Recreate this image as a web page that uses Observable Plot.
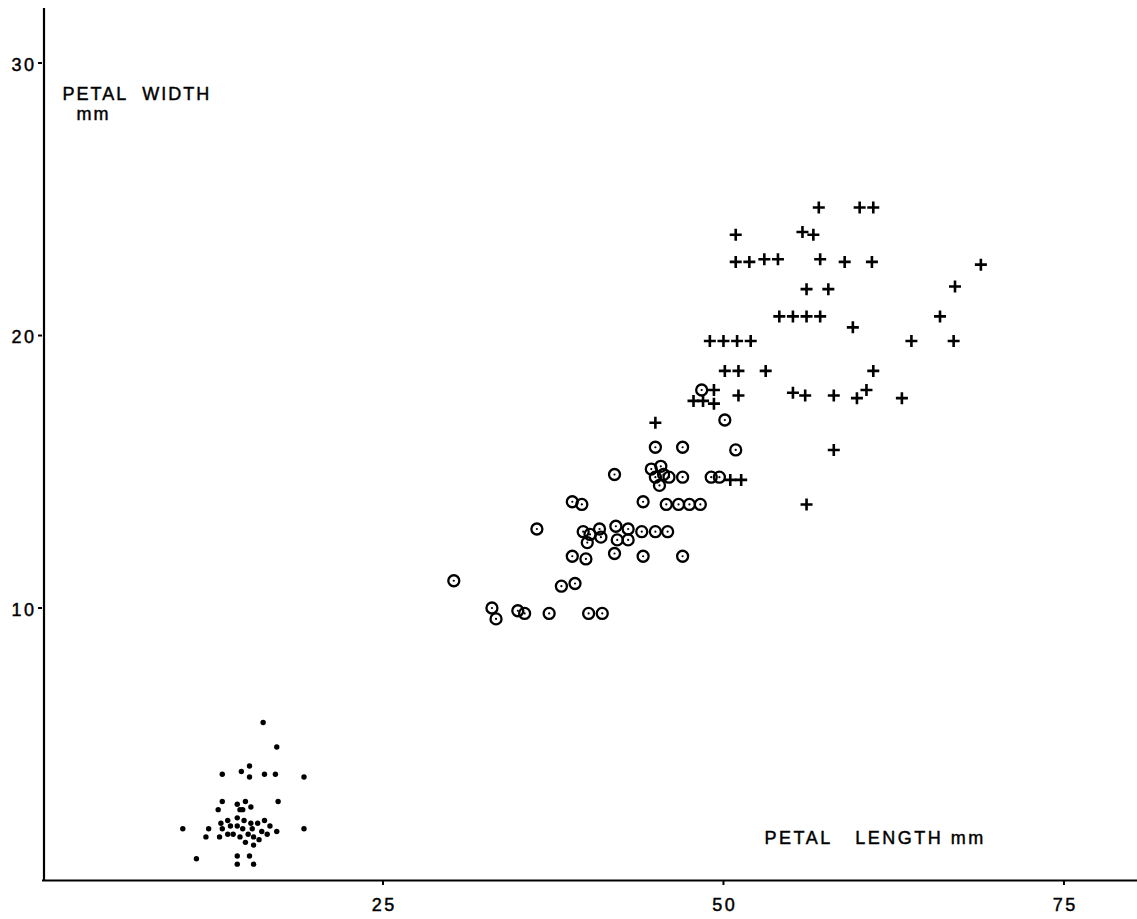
<!DOCTYPE html>
<html>
<head>
<meta charset="utf-8">
<script src="https://cdn.jsdelivr.net/npm/d3@7"></script>
<script src="https://cdn.jsdelivr.net/npm/@observablehq/plot@0.6"></script>
<style>
  html, body { margin: 0; padding: 0; background: #fff; }
  #chart svg { display: block; }
</style>
</head>
<body>
<div id="chart"></div>
<script>
// Iris petal measurements (mm), one pair of arrays per species.
const setosaLength = [
  16.2, 17.2, 15.2, 14.6, 13.2, 15.2, 16.3, 17.1, 19.2, 13.2,
  14.3, 14.9, 17.3, 12.9, 14.5, 14.7, 15.3, 10.3, 12.2, 13.1,
  13.6, 14.3, 14.8, 16.3, 13.2, 13.8, 14.3, 15.3, 15.8, 16.7,
  15.4, 16.1, 17.2, 19.2, 12.0, 13.0, 13.6, 14.0, 14.5, 14.7,
  15.1, 15.5, 15.9, 16.5, 14.9, 15.5, 11.3, 14.3, 15.2, 14.3,
  15.5
];
const setosaWidth = [
  5.8, 4.9, 4.2, 4.0, 3.9, 3.8, 3.9, 3.9, 3.8, 2.9,
  2.8, 2.9, 2.9, 2.6, 2.6, 2.6, 2.7, 1.9, 1.9, 2.1,
  2.2, 2.3, 2.2, 2.2, 1.9, 2.0, 2.0, 2.1, 2.1, 2.0,
  1.9, 1.8, 1.8, 1.9, 1.6, 1.6, 1.7, 1.7, 1.6, 1.9,
  1.7, 1.6, 1.5, 1.7, 1.4, 1.3, 0.8, 0.9, 0.9, 0.6,
  0.6
];

const versicolorLength = [
  30.2, 33.0, 33.3, 34.9, 35.4, 37.2, 40.1, 41.1, 38.1, 39.1,
  36.3, 48.4, 50.1, 45.0, 47.0, 50.9, 42.0, 44.7, 45.4, 45.0,
  45.6, 46.0, 45.3, 47.0, 49.1, 49.7, 44.1, 45.8, 46.7, 47.5,
  48.3, 38.9, 39.6, 39.7, 40.2, 40.9, 41.0, 42.1, 42.2, 43.0,
  43.0, 44.0, 45.0, 45.9, 40.0, 38.9, 39.9, 42.0, 44.1, 47.0
];
const versicolorWidth = [
  11.0, 10.0, 9.6, 9.9, 9.8, 9.8, 9.8, 9.8, 10.8, 10.9,
  12.9, 18.0, 16.9, 15.9, 15.9, 15.8, 14.9, 15.1, 15.2, 14.8,
  14.9, 14.8, 14.5, 14.8, 14.8, 14.8, 13.9, 13.8, 13.8, 13.8,
  13.8, 13.9, 13.8, 12.8, 12.7, 12.9, 12.6, 13.0, 12.5, 12.9,
  12.5, 12.8, 12.8, 12.8, 12.4, 11.9, 11.8, 12.0, 11.9, 11.9
];

const virginicaLength = [
  57.0, 60.0, 61.0, 50.9, 55.8, 56.6, 50.9, 51.9, 53.0, 54.0,
  57.1, 58.9, 60.9, 68.9, 56.1, 57.7, 67.0, 54.1, 55.1, 56.1,
  57.1, 59.5, 65.9, 49.0, 50.0, 51.0, 52.0, 63.8, 66.9, 50.1,
  51.1, 53.1, 61.0, 49.3, 47.8, 48.5, 49.3, 51.1, 55.1, 56.0,
  58.1, 59.8, 60.5, 63.1, 58.1, 50.5, 51.3, 56.1, 45.0
];
const virginicaWidth = [
  24.7, 24.7, 24.7, 23.7, 23.8, 23.7, 22.7, 22.7, 22.8, 22.8,
  22.8, 22.7, 22.7, 22.6, 21.7, 21.7, 21.8, 20.7, 20.7, 20.7,
  20.7, 20.3, 20.7, 19.8, 19.8, 19.8, 19.8, 19.8, 19.8, 18.7,
  18.7, 18.7, 18.7, 18.0, 17.6, 17.6, 17.5, 17.8, 17.9, 17.8,
  17.8, 17.7, 18.0, 17.7, 15.8, 14.7, 14.7, 13.8, 16.8
];

const xTicks = [25, 50, 75];
const yTicks = [10, 20, 30];
const yLabel = ["PETAL\u00a0\u00a0WIDTH"];
const yUnit = ["mm"];
const xLabel = ["PETAL\u00a0\u00a0\u00a0LENGTH\u00a0mm"];

const rows = (len, wid) => len.map((d, i) => ({length: d, width: wid[i]}));
const setosa = rows(setosaLength, setosaWidth);
const versicolor = rows(versicolorLength, versicolorWidth);
const virginica = rows(virginicaLength, virginicaWidth);

// Stroked plus sign whose arms reach the dot radius r.
const plusSign = {
  draw(context, size) {
    const r = Math.sqrt(size / Math.PI);
    context.moveTo(-r, 0); context.lineTo(r, 0);
    context.moveTo(0, -r); context.lineTo(0, r);
  }
};

const font = "'Liberation Sans', Arial, Helvetica, sans-serif";
const tickFontSize = 18;

const chart = Plot.plot({
  width: 1137,
  height: 919,
  marginLeft: 42,
  marginRight: 0,
  marginTop: 8,
  marginBottom: 39,
  style: {fontFamily: font, fontSize: "18px", color: "black", background: "white", overflow: "visible"},
  x: {domain: [0, 80.4], axis: null},
  y: {domain: [0, 32], axis: null},
  marks: [
    // axis lines
    Plot.ruleY([0], {stroke: "black", strokeWidth: 2.2}),
    Plot.ruleX([0], {y1: 0, y2: 32, stroke: "black", strokeWidth: 2.2, dx: 1.5}),
    // tick marks only (numbers are drawn as text marks below)
    Plot.axisX(xTicks, {tickSize: 5, tickFormat: () => "", strokeWidth: 2, label: null}),
    Plot.axisY(yTicks, {tickSize: 4, tickFormat: () => "", strokeWidth: 2, label: null}),
    // tick numbers
    Plot.text(xTicks, {x: d => d, text: d => String(d), frameAnchor: "bottom", lineAnchor: "top", dy: 18, dx: 1.25, fontSize: tickFontSize}),
    Plot.text(yTicks, {y: d => d, text: d => String(d), frameAnchor: "left", textAnchor: "end", lineAnchor: "middle", dx: -6, dy: 2, fontSize: tickFontSize}),
    // species
    Plot.dot(setosa, {x: "length", y: "width", r: 2.7, fill: "black", stroke: "none"}),
    Plot.dot(versicolor, {x: "length", y: "width", r: 5.5, fill: "none", stroke: "black", strokeWidth: 2.3}),
    Plot.dot(versicolor, {x: "length", y: "width", r: 1.1, fill: "black", stroke: "none"}),
    Plot.dot(virginica, {x: "length", y: "width", symbol: plusSign, r: 6, fill: "none", stroke: "black", strokeWidth: 2.6}),
    // axis captions
    Plot.text(yLabel, {text: d => d, frameAnchor: "top-left", textAnchor: "start", lineAnchor: "middle", dx: 20, dy: 86, fontSize: 18}),
    Plot.text(yUnit, {text: d => d, frameAnchor: "top-left", textAnchor: "start", lineAnchor: "middle", dx: 34, dy: 106, fontSize: 18}),
    Plot.text(xLabel, {text: d => d, frameAnchor: "top-left", textAnchor: "start", lineAnchor: "middle", dx: 722, dy: 830, fontSize: 18})
  ]
});

// Wide, slightly heavy lettering for numbers and captions.
const svg = d3.select(chart);
const tickStrings = [...xTicks, ...yTicks].map(String);
svg.selectAll("text")
  .filter(function () { return tickStrings.includes(this.textContent); })
  .style("letter-spacing", "2.5px")
  .style("stroke", "black")
  .style("stroke-width", "0.45px");
svg.selectAll("text")
  .filter(function () { return [...yLabel, ...yUnit].includes(this.textContent); })
  .style("letter-spacing", "2px")
  .style("stroke", "black")
  .style("stroke-width", "0.45px");
svg.selectAll("text")
  .filter(function () { return xLabel.includes(this.textContent); })
  .style("letter-spacing", "2.5px")
  .style("stroke", "black")
  .style("stroke-width", "0.45px");

document.getElementById("chart").appendChild(chart);
</script>
</body>
</html>
